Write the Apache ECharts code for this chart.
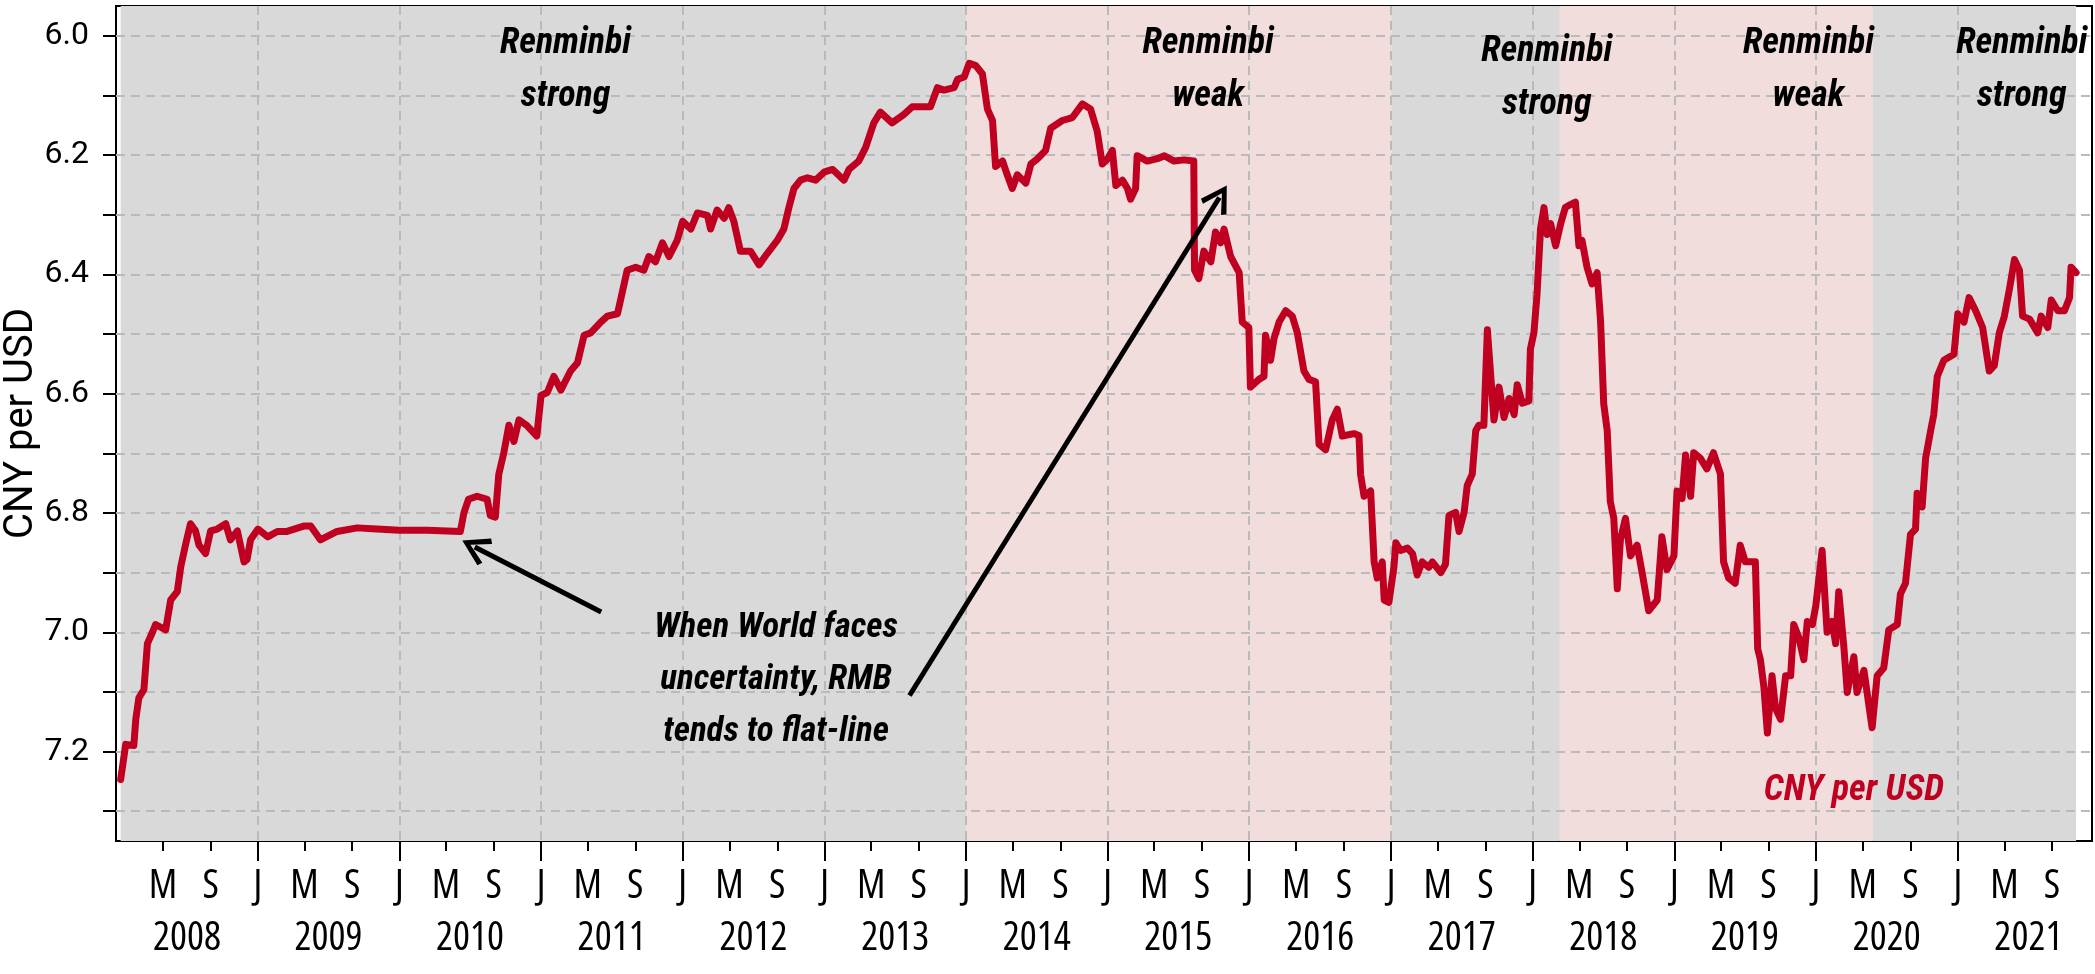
<!DOCTYPE html>
<html><head><meta charset="utf-8">
<script src="https://cdn.jsdelivr.net/npm/echarts@6/dist/echarts.min.js"></script>
<style>html,body{margin:0;padding:0;background:#fff}#c{width:2095px;height:974px}</style>
</head><body><div id="c"></div>
<script>
// ---------------- DATA ----------------
const dates = [
'2008-01-13','2008-01-26','2008-02-16','2008-02-21','2008-02-29','2008-03-13','2008-03-22','2008-04-04','2008-04-12','2008-05-08',
'2008-05-21','2008-06-07','2008-06-16','2008-06-28','2008-07-11','2008-07-24','2008-08-02','2008-08-19','2008-09-01','2008-09-18',
'2008-10-10','2008-10-22','2008-11-09','2008-11-26','2008-12-04','2008-12-13','2009-01-01','2009-01-26','2009-02-20','2009-03-17',
'2009-04-29','2009-05-17','2009-06-11','2009-07-24','2009-09-14','2009-11-04','2010-01-01','2010-03-13','2010-06-07','2010-06-16',
'2010-06-28','2010-07-20','2010-08-15','2010-08-23','2010-09-05','2010-09-14','2010-09-27','2010-10-10','2010-10-23','2010-11-05',
'2010-11-25','2010-12-21','2011-01-01','2011-01-17','2011-02-03','2011-02-21','2011-03-18','2011-04-05','2011-04-22','2011-05-09',
'2011-06-04','2011-06-21','2011-07-17','2011-07-25','2011-08-11','2011-09-02','2011-09-23','2011-10-06','2011-10-23','2011-11-10',
'2011-11-27','2011-12-18','2012-01-01','2012-01-22','2012-02-08','2012-03-05','2012-03-13','2012-03-30','2012-04-17','2012-04-29',
'2012-05-12','2012-05-29','2012-06-24','2012-07-16','2012-08-06','2012-09-01','2012-09-18','2012-10-01','2012-10-14','2012-10-31',
'2012-11-18','2012-12-09','2013-01-01','2013-01-22','2013-02-20','2013-03-05','2013-03-30','2013-04-17','2013-05-08','2013-05-25',
'2013-06-24','2013-07-24','2013-08-15','2013-09-05','2013-10-01','2013-10-19','2013-11-05','2013-12-01','2013-12-10','2013-12-27',
'2014-01-09','2014-01-26','2014-02-12','2014-02-25','2014-03-10','2014-03-18','2014-04-05','2014-04-17','2014-04-30','2014-05-13',
'2014-06-04','2014-06-17','2014-07-04','2014-07-25','2014-08-07','2014-09-06','2014-10-02','2014-10-28','2014-11-18','2014-12-05',
'2014-12-18','2015-01-01','2015-01-13','2015-01-22','2015-02-08','2015-02-21','2015-03-01','2015-03-14','2015-03-18','2015-04-13',
'2015-05-09','2015-05-27','2015-06-21','2015-07-17','2015-08-11','2015-08-13','2015-08-24','2015-09-06','2015-09-24','2015-10-06',
'2015-10-19','2015-10-28','2015-11-14','2015-12-06','2015-12-14','2015-12-31','2016-01-04','2016-01-26','2016-02-08','2016-02-12',
'2016-02-25','2016-03-05','2016-03-18','2016-04-04','2016-04-21','2016-05-04','2016-05-21','2016-06-03','2016-06-20','2016-06-29',
'2016-07-16','2016-08-02','2016-08-15','2016-08-28','2016-09-27','2016-10-10','2016-10-14','2016-10-23','2016-11-09','2016-11-18',
'2016-11-26','2016-12-09','2016-12-14','2016-12-26','2017-01-08','2017-01-13','2017-01-25','2017-02-12','2017-02-25','2017-03-09',
'2017-03-22','2017-04-08','2017-04-17','2017-05-09','2017-05-21','2017-05-30','2017-06-16','2017-06-25','2017-07-08','2017-07-16',
'2017-07-29','2017-08-07','2017-08-15','2017-08-28','2017-09-06','2017-09-23','2017-10-06','2017-10-19','2017-11-01','2017-11-14',
'2017-11-22','2017-12-05','2017-12-22','2017-12-26','2018-01-04','2018-01-12','2018-01-21','2018-01-30','2018-02-07','2018-02-16',
'2018-03-01','2018-03-14','2018-03-26','2018-04-08','2018-04-21','2018-04-30','2018-05-08','2018-05-21','2018-06-03','2018-06-16',
'2018-06-25','2018-07-03','2018-07-12','2018-07-20','2018-07-29','2018-08-07','2018-08-15','2018-08-28','2018-09-10','2018-09-27',
'2018-10-10','2018-10-27','2018-11-18','2018-11-30','2018-12-13','2018-12-31','2019-01-08','2019-01-21','2019-01-30','2019-02-12',
'2019-02-20','2019-03-09','2019-03-26','2019-04-12','2019-04-30','2019-05-08','2019-05-21','2019-06-07','2019-06-20','2019-07-03',
'2019-07-29','2019-08-04','2019-08-11','2019-08-20','2019-08-29','2019-09-10','2019-09-19','2019-10-02','2019-10-15','2019-10-28',
'2019-11-05','2019-11-18','2019-12-01','2019-12-10','2019-12-23','2020-01-01','2020-01-17','2020-01-30','2020-02-12','2020-02-21',
'2020-02-29','2020-03-13','2020-03-22','2020-04-08','2020-04-16','2020-05-04','2020-05-12','2020-05-25','2020-06-07','2020-06-24',
'2020-07-07','2020-07-29','2020-08-06','2020-08-19','2020-09-01','2020-09-14','2020-09-18','2020-10-01','2020-10-10','2020-10-23',
'2020-10-31','2020-11-09','2020-11-26','2020-12-22','2021-01-01','2021-01-17','2021-01-30','2021-02-16','2021-03-06','2021-03-23',
'2021-04-05','2021-04-18','2021-05-01','2021-05-14','2021-05-27','2021-06-09','2021-06-17','2021-07-05','2021-07-26','2021-08-04',
'2021-08-21','2021-08-30','2021-09-16','2021-10-03','2021-10-16','2021-10-20','2021-11-02'
];
const cnyPerUsd = [
7.247,7.188,7.190,7.146,7.110,7.096,7.019,7.000,6.987,6.996,
6.946,6.932,6.890,6.854,6.818,6.830,6.854,6.868,6.830,6.827,
6.818,6.845,6.830,6.882,6.878,6.845,6.827,6.840,6.831,6.831,
6.822,6.822,6.845,6.831,6.825,6.827,6.829,6.829,6.831,6.800,
6.777,6.772,6.777,6.804,6.807,6.735,6.699,6.653,6.680,6.644,
6.653,6.671,6.603,6.598,6.571,6.594,6.562,6.548,6.502,6.498,
6.480,6.470,6.466,6.443,6.393,6.388,6.393,6.370,6.379,6.347,
6.370,6.343,6.311,6.324,6.297,6.301,6.324,6.292,6.306,6.288,
6.311,6.361,6.361,6.384,6.365,6.343,6.324,6.288,6.256,6.242,
6.238,6.242,6.228,6.224,6.242,6.224,6.210,6.187,6.146,6.128,
6.146,6.132,6.119,6.119,6.119,6.087,6.091,6.087,6.073,6.069,
6.046,6.050,6.064,6.123,6.142,6.219,6.210,6.233,6.256,6.233,
6.247,6.215,6.206,6.192,6.155,6.142,6.137,6.114,6.123,6.160,
6.215,6.206,6.192,6.251,6.242,6.256,6.274,6.256,6.201,6.210,
6.206,6.201,6.210,6.208,6.210,6.393,6.407,6.361,6.379,6.329,
6.347,6.324,6.370,6.397,6.480,6.489,6.589,6.576,6.571,6.502,
6.544,6.507,6.480,6.461,6.470,6.498,6.562,6.576,6.580,6.685,
6.694,6.644,6.626,6.671,6.667,6.670,6.735,6.772,6.763,6.882,
6.909,6.882,6.946,6.950,6.891,6.850,6.863,6.859,6.868,6.904,
6.882,6.891,6.882,6.900,6.886,6.804,6.799,6.831,6.799,6.754,
6.735,6.662,6.653,6.653,6.493,6.644,6.589,6.640,6.608,6.635,
6.585,6.616,6.612,6.525,6.498,6.434,6.324,6.288,6.333,6.315,
6.352,6.315,6.288,6.283,6.279,6.352,6.343,6.388,6.416,6.397,
6.480,6.617,6.662,6.781,6.809,6.927,6.845,6.809,6.872,6.854,
6.900,6.964,6.946,6.840,6.895,6.872,6.763,6.776,6.703,6.772,
6.699,6.708,6.726,6.699,6.735,6.882,6.909,6.918,6.854,6.882,
6.882,7.028,7.046,7.092,7.169,7.073,7.128,7.146,7.073,7.073,
6.987,7.009,7.046,6.982,6.987,6.955,6.863,7.000,6.982,7.019,
6.932,7.023,7.101,7.041,7.101,7.064,7.101,7.160,7.073,7.060,
6.996,6.987,6.936,6.918,6.836,6.827,6.767,6.790,6.708,6.662,
6.635,6.571,6.544,6.534,6.466,6.480,6.439,6.461,6.489,6.562,
6.553,6.498,6.470,6.425,6.375,6.393,6.470,6.475,6.498,6.470,
6.489,6.443,6.461,6.461,6.439,6.388,6.397
];
const years = [2008,2009,2010,2011,2012,2013,2014,2015,2016,2017,2018,2019,2020,2021];
const monthTicks = [0, 4, 8];                 // J, M, S
const monthLetters = {0: 'J', 4: 'M', 8: 'S'};
const yTickValues  = [6.0,6.1,6.2,6.3,6.4,6.5,6.6,6.7,6.8,6.9,7.0,7.1,7.2,7.3];
const yLabelValues = [6.0,6.2,6.4,6.6,6.8,7.0,7.2];
const xRange = ['2008-01-01', '2021-12-13'];
const yRange = [5.95, 7.35];
// regime bands
const regimeStarts = ['2008-01-13','2014-01-01','2017-01-01','2018-03-12','2020-05-27'];
const regimeEnds   = ['2014-01-01','2017-01-01','2018-03-12','2020-05-27','2021-11-02'];
const regimeKinds  = ['strong','weak','strong','weak','strong'];
// annotation anchors (data coordinates)
const regimeLabelDates  = ['2011-03-05','2015-09-17','2018-02-06','2019-12-13','2021-06-15'];
const regimeLabelValues = [6.058, 6.058, 6.071, 6.058, 6.058];
const noteText = 'When World faces\nuncertainty, RMB\ntends to flat-line';
const noteAnchor = ['2012-08-29', 7.080];
const seriesLabelAnchor = ['2020-04-08', 7.266];
const arrows = [
  [['2011-06-05', 6.966], ['2010-07-14', 6.857]],
  [['2013-08-08', 7.106], ['2015-10-16', 6.271]]
];

// ---------------- CHART ----------------
const COND = "'Roboto Condensed','Open Sans',sans-serif";
const NARROW = "'Open Sans','Roboto Condensed',sans-serif";   // used with font-stretch condensed
const RED = '#c00020';
const ts = s => { const p = s.split('-').map(Number); return Date.UTC(p[0], p[1] - 1, p[2]); };
const tm = (y, m, d) => Date.UTC(y, m, d || 1);
const allTickVals = [], minorTickVals = [], janVals = [], midYearVals = [];
years.forEach(y => {
  monthTicks.forEach(m => {
    const v = tm(y, m);
    if (v > tm(2008, 0, 2)) { allTickVals.push(v); if (m !== 0) minorTickVals.push(v); else janVals.push(v); }
  });
  midYearVals.push(tm(y, 6, 2));
});

const seriesData = dates.map((d, i) => [ts(d), cnyPerUsd[i]]);
const chevron = 'path://M12 0 L24 19 L20.5 21.5 L12 7 L3.5 21.5 L0 19 Z';

const baseX = {type: 'value', min: ts(xRange[0]), max: ts(xRange[1]), position: 'bottom', splitLine: {show: false}};
const narrowText = size => ({fontSize: size, fontWeight: 'normal condensed', fontFamily: NARROW, color: '#000'});
const boldItalic = (size, color) => ({fontSize: size, fontStyle: 'italic', fontWeight: 'bold', fontFamily: COND, color: color || '#000'});
const chart = echarts.init(document.getElementById('c'), null, {renderer: 'canvas'});
chart.setOption({
  animation: false,
  backgroundColor: '#fff',
  grid: {left: 116, right: 3, top: 6, bottom: 133, show: true, borderColor: '#000', borderWidth: 2, backgroundColor: '#fff',
         containLabel: false, outerBoundsMode: 'none'},
  xAxis: [
    Object.assign({}, baseX, {
      axisLine: {show: true, lineStyle: {color: '#000', width: 2}},
      axisTick: {show: true, customValues: minorTickVals, length: 10, lineStyle: {color: '#000', width: 2}},
      axisLabel: Object.assign({show: true, customValues: allTickVals, margin: 26,
        formatter: v => monthLetters[new Date(v).getUTCMonth()] || ''}, narrowText(40))
    }),
    Object.assign({}, baseX, {
      axisLine: {show: false},
      axisTick: {show: true, customValues: janVals, length: 20, lineStyle: {color: '#000', width: 2}},
      axisLabel: {show: false}
    }),
    Object.assign({}, baseX, {
      axisLine: {show: false},
      axisTick: {show: false},
      axisLabel: Object.assign({show: true, customValues: midYearVals, margin: 78,
        formatter: v => String(new Date(v).getUTCFullYear())}, narrowText(40))
    })
  ],
  yAxis: {
    type: 'value', inverse: true, min: yRange[0], max: yRange[1],
    axisLine: {show: true, lineStyle: {color: '#000', width: 2}},
    axisTick: {show: true, customValues: yTickValues, length: 13, lineStyle: {color: '#000', width: 2}},
    axisLabel: {show: true, customValues: yLabelValues, margin: 27, formatter: v => v.toFixed(1),
      fontSize: 32, fontFamily: "'Roboto',sans-serif", color: '#000'},
    splitLine: {show: false},
    name: 'CNY per USD', nameLocation: 'middle', nameGap: 74, nameRotate: 90, nameMoveOverlap: false,
    nameTextStyle: {fontSize: 40, fontFamily: "'Roboto',sans-serif", color: '#000'}
  },
  series: [
    {
      name: 'bands', type: 'line', data: seriesData, showSymbol: false, silent: true, z: 1,
      lineStyle: {opacity: 0, width: 0},
      markArea: {
        silent: true, z: 1,
        data: regimeStarts.map((s, i) => [
          {xAxis: ts(s), itemStyle: {color: regimeKinds[i] === 'weak' ? '#f2dddd' : '#d9d9d9'}},
          {xAxis: ts(regimeEnds[i])}
        ])
      }
    },
    {
      name: 'grid', type: 'line', data: seriesData, showSymbol: false, silent: true, z: 2,
      lineStyle: {opacity: 0, width: 0},
      markLine: {
        silent: true, z: 2, symbol: ['none', 'none'], label: {show: false},
        lineStyle: {color: '#bababa', type: [9, 6], width: 2},
        data: yTickValues.map(v => ({yAxis: v})).concat(years.slice(1).map(y => ({xAxis: tm(y, 0)})))
      }
    },
    {
      name: 'CNY per USD', type: 'line', data: seriesData, showSymbol: false, z: 10,
      lineStyle: {color: RED, width: 7, join: 'round', cap: 'round'},
      itemStyle: {color: RED},
      markLine: {
        silent: true, z: 12, symbol: ['none', chevron], symbolSize: [30, 28],
        label: {show: false},
        lineStyle: {color: '#000', type: 'solid', width: 5},
        itemStyle: {color: '#000'},
        data: arrows.map(a => [{coord: [ts(a[0][0]), a[0][1]]}, {coord: [ts(a[1][0]), a[1][1]]}])
      },
      markPoint: {
        silent: true, z: 12, symbol: 'circle', symbolSize: 1, itemStyle: {color: 'rgba(0,0,0,0)'},
        data: regimeLabelDates.map((d, i) => ({
          coord: [ts(d), regimeLabelValues[i]],
          label: Object.assign({show: true, position: 'inside', formatter: 'Renminbi\n' + regimeKinds[i], lineHeight: 53}, boldItalic(36))
        })).concat([
          {coord: [ts(noteAnchor[0]), noteAnchor[1]],
           label: Object.assign({show: true, position: 'inside', formatter: noteText, lineHeight: 52}, boldItalic(35))},
          {coord: [ts(seriesLabelAnchor[0]), seriesLabelAnchor[1]],
           label: Object.assign({show: true, position: 'inside', formatter: 'CNY per USD'}, boldItalic(36, RED))}
        ])
      }
    }
  ]
});
</script>
</body></html>
